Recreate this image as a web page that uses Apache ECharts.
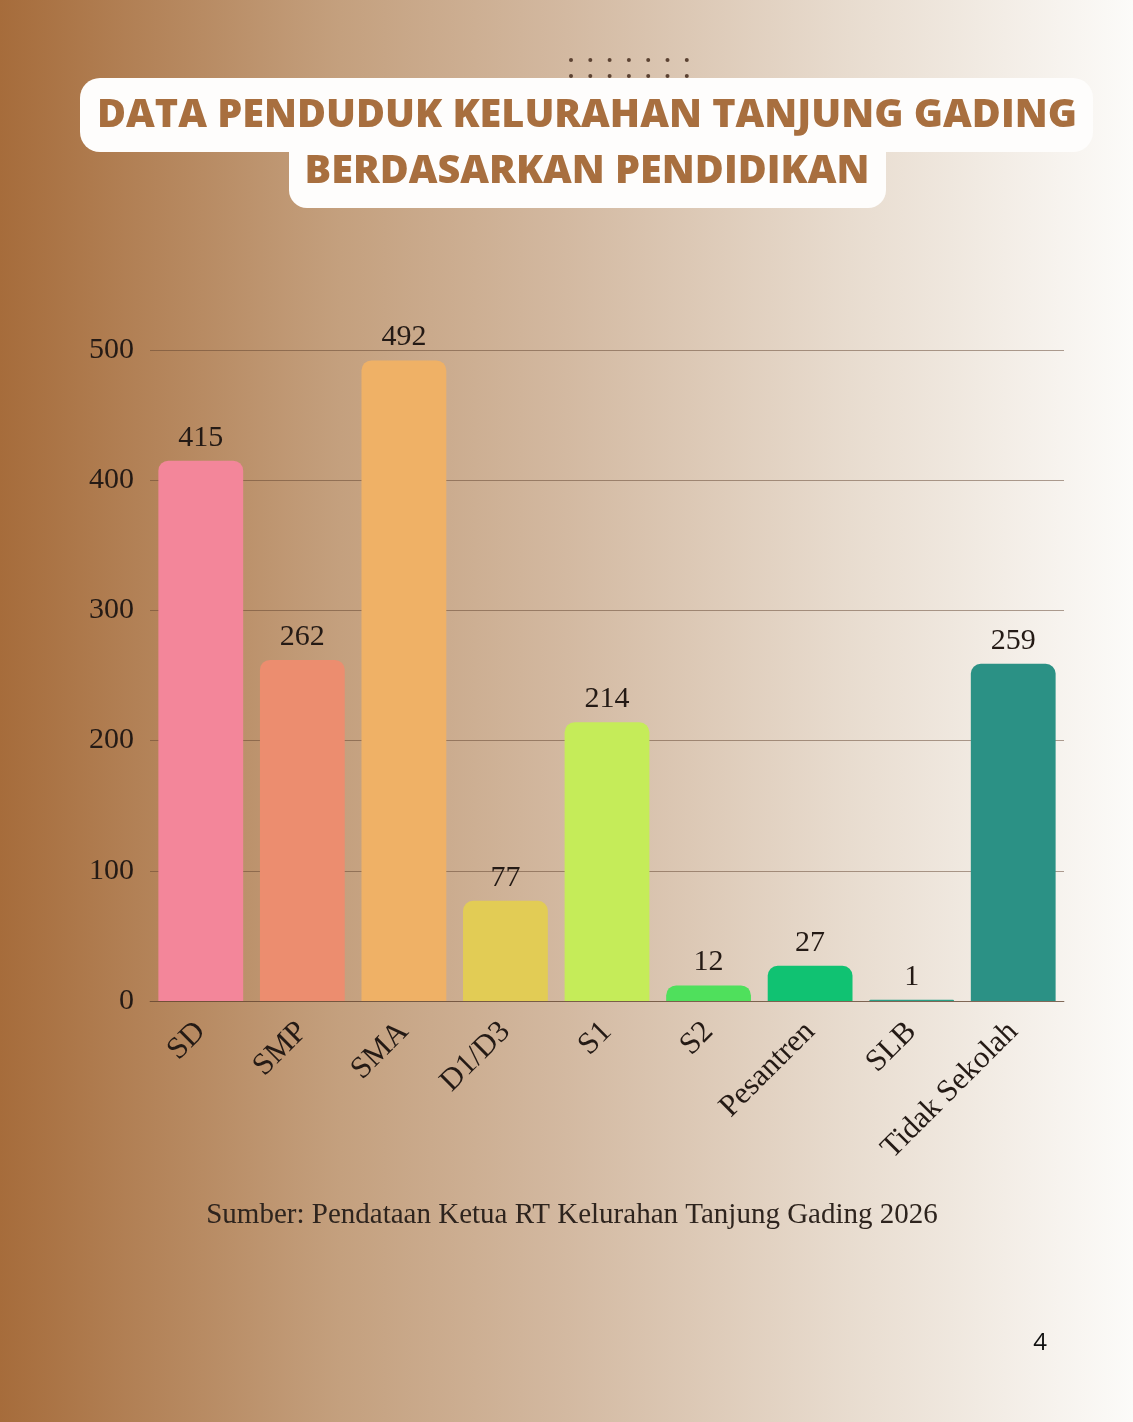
<!DOCTYPE html>
<html><head><meta charset="utf-8">
<script src="https://cdn.jsdelivr.net/npm/echarts@6/dist/echarts.min.js"></script>
<style>html,body{margin:0;padding:0;}#c{width:1133px;height:1422px;}</style>
</head><body><div id="c"></div>
<script>
var categories = ['SD','SMP','SMA','D1/D3','S1','S2','Pesantren','SLB','Tidak Sekolah'];
var values = [415, 262, 492, 77, 214, 12, 27, 1, 259];
var barColors = ['#f3869a','#ec8d6f','#efb166','#e2cc55','#c5ec59','#4fe05c','#10c272','#2a9f86','#2b9185'];
var yTicks = {min:0, max:500, interval:100};
var titleLines = ['DATA PENDUDUK KELURAHAN TANJUNG GADING','BERDASARKAN PENDIDIKAN'];
var sourceText = 'Sumber: Pendataan Ketua RT Kelurahan Tanjung Gading 2026';
var pageNum = '4';

var serif = '"Liberation Serif", "DejaVu Serif", serif';
var chart = echarts.init(document.getElementById('c'));
var graphics = [];
// dots
for (var r=0;r<2;r++){
  for (var i=0;i<7;i++){
    graphics.push({type:'circle', shape:{cx:571+i*19.3, cy:60+r*16, r:2}, style:{fill:'#5b4232'}, z:1});
  }
}
graphics.push({type:'rect', shape:{x:80,y:78,width:1013,height:74,r:20}, style:{fill:'#fefdfc'}, z:2});
graphics.push({type:'rect', shape:{x:289,y:130,width:597,height:78,r:18}, style:{fill:'#fefdfc'}, z:2});
graphics.push({type:'text', x:587, y:116, style:{text:titleLines[0], fill:'#a86f3f', font:'800 39.6px "Open Sans", sans-serif', align:'center', verticalAlign:'middle'}, z:3});
graphics.push({type:'text', x:587, y:172, style:{text:titleLines[1], fill:'#a86f3f', font:'800 39.6px "Open Sans", sans-serif', align:'center', verticalAlign:'middle'}, z:3});
graphics.push({type:'text', x:572, y:1215, style:{text:sourceText, fill:'#2e241e', font:'29px '+serif, align:'center', verticalAlign:'middle'}, z:3});
graphics.push({type:'text', x:1040, y:1343, style:{text:pageNum, fill:'#111', font:'24px "Open Sans", sans-serif', align:'center', verticalAlign:'middle'}, z:3});

chart.setOption({
  backgroundColor: {type:'linear', x:0, y:0, x2:1, y2:0, colorStops:[
    {offset:0, color:'#a66c3b'},{offset:0.3, color:'#c4a07e'},{offset:0.5, color:'#d3b9a1'},{offset:0.75, color:'#e8dccf'},{offset:1, color:'#fcfbf9'}]},
  animation:false,
  graphic: graphics,
  grid:{left:150, right:69, top:350, bottom:421},
  xAxis:{type:'category', data:categories,
    axisLine:{show:true, lineStyle:{color:'rgba(95,65,45,0.55)', width:1}},
    axisTick:{show:false},
    axisLabel:{rotate:45, margin:26, color:'#241a15', fontSize:31, fontFamily:serif, interval:0, padding:[0,0,0,0]}},
  yAxis:{type:'value', min:yTicks.min, max:yTicks.max, interval:yTicks.interval,
    axisLine:{show:false}, axisTick:{show:false},
    splitLine:{lineStyle:{color:'rgba(95,65,45,0.5)', width:1}},
    axisLabel:{margin:16, color:'#241a15', fontSize:30, fontFamily:serif}},
  series:[{type:'bar', barCategoryGap:'16.5%',
    data: values.map(function(v,i){return {value:v, itemStyle:{color:barColors[i]}};}),
    itemStyle:{borderRadius:[10,10,0,0]},
    label:{show:true, position:'top', distance:8, color:'#241a15', fontSize:30, fontFamily:serif}}]
});
</script></body></html>
